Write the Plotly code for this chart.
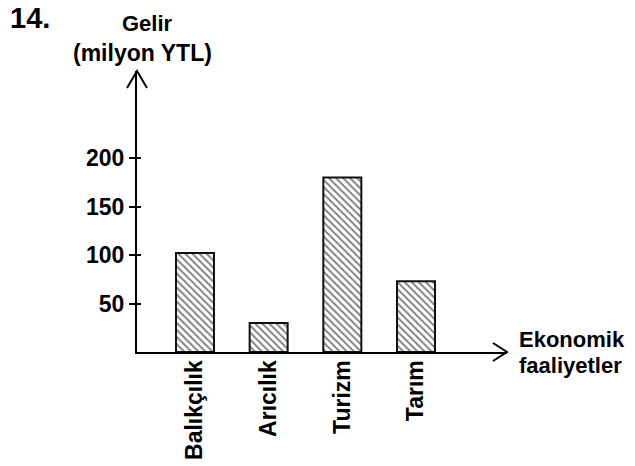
import plotly.graph_objects as go

# ---- data ----
categories = ["Balıkçılık", "Arıcılık", "Turizm", "Tarım"]
values = [102, 30, 180, 73]
y_tick_vals = [50, 100, 150, 200]
y_tick_text = ["50", "100", "150", "200"]
y_title_lines = ["Gelir", "(milyon YTL)"]
x_title_lines = ["Ekonomik", "faaliyetler"]
question_no = "14."

# ---- geometry (pixels) ----
FIG_W, FIG_H = 635, 466
L, R, T, B = 137, 128, 71, 114
PW = FIG_W - L - R
PH = FIG_H - T - B
PX_PER_UNIT = 0.97


def px(x):
    return (x - L) / PW


def py(y):
    return 1 - (y - T) / PH


FONT = "Liberation Sans, Arial, sans-serif"
xpos = list(range(len(categories)))

fig = go.Figure()
fig.add_trace(go.Bar(
    x=xpos, y=values, width=0.516,
    marker=dict(color="white",
                line=dict(color="#111111", width=2),
                pattern=dict(shape="\\", fgcolor="black", bgcolor="white",
                             size=5, solidity=0.38)),
    showlegend=False, hoverinfo="skip",
))
# invisible trace for inner half of tick marks
fig.add_trace(go.Scatter(x=[None], y=[None], yaxis="y2", showlegend=False))

ymax = PH / PX_PER_UNIT

fig.update_layout(
    width=FIG_W, height=FIG_H,
    margin=dict(l=L, r=R, t=T, b=B, pad=0, autoexpand=False),
    paper_bgcolor="white", plot_bgcolor="white",
    font=dict(family=FONT, color="black"),
    xaxis=dict(range=[-0.787, (FIG_W - R - 195) / 73.67],
               tickvals=xpos, ticktext=categories, tickangle=-90,
               tickfont=dict(family=FONT, size=23, weight="bold", color="black"),
               ticklabelstandoff=-3,
               showline=True, linecolor="black", linewidth=2,
               ticks="", ticklen=0, showgrid=False, zeroline=False,
               automargin=False, fixedrange=True),
    yaxis=dict(range=[0, ymax], tickvals=y_tick_vals, ticktext=y_tick_text,
               tickfont=dict(family=FONT, size=23, weight="bold", color="black"),
               showline=True, linecolor="black", linewidth=2,
               ticks="outside", ticklen=6, tickwidth=2, tickcolor="black",
               showgrid=False, zeroline=False, automargin=False, fixedrange=True),
    yaxis2=dict(range=[0, ymax], overlaying="y", side="left",
                tickvals=y_tick_vals, showticklabels=False,
                ticks="inside", ticklen=4, tickwidth=2, tickcolor="black",
                showline=False, showgrid=False, zeroline=False, automargin=False),
)

# arrowheads (open V shapes)
tipx_y, tipy_y = 137, T
fig.add_shape(type="path", xref="paper", yref="paper",
              path=f"M {px(127)},{py(88)} L {px(tipx_y)},{py(tipy_y)} L {px(147)},{py(88)}",
              line=dict(color="black", width=2))
tipx_x, tipy_x = FIG_W - R, 352
fig.add_shape(type="path", xref="paper", yref="paper",
              path=f"M {px(493)},{py(343)} L {px(tipx_x)},{py(tipy_x)} L {px(493)},{py(361)}",
              line=dict(color="black", width=2))

# texts
fig.add_annotation(text=f"<b>{question_no}</b>", xref="paper", yref="paper",
                   x=px(8), y=py(18), xanchor="left", yanchor="middle",
                   showarrow=False, font=dict(family=FONT, size=29, color="black"))
fig.add_annotation(text=f"<b>{y_title_lines[0]}</b>", xref="paper", yref="paper",
                   x=px(147), y=py(23), xanchor="center", yanchor="middle",
                   showarrow=False, font=dict(family=FONT, size=22, color="black"))
fig.add_annotation(text=f"<b>{y_title_lines[1]}</b>", xref="paper", yref="paper",
                   x=px(142), y=py(53), xanchor="center", yanchor="middle",
                   showarrow=False, font=dict(family=FONT, size=23, color="black"))
fig.add_annotation(text=f"<b>{x_title_lines[0]}</b>", xref="paper", yref="paper",
                   x=px(517), y=py(339), xanchor="left", yanchor="middle",
                   showarrow=False, font=dict(family=FONT, size=22, color="black"))
fig.add_annotation(text=f"<b>{x_title_lines[1]}</b>", xref="paper", yref="paper",
                   x=px(517), y=py(365), xanchor="left", yanchor="middle",
                   showarrow=False, font=dict(family=FONT, size=22, color="black"))

fig.write_html("out.html", config={"displayModeBar": False},
               post_script="document.body.style.margin='0';document.body.style.overflow='hidden';")
